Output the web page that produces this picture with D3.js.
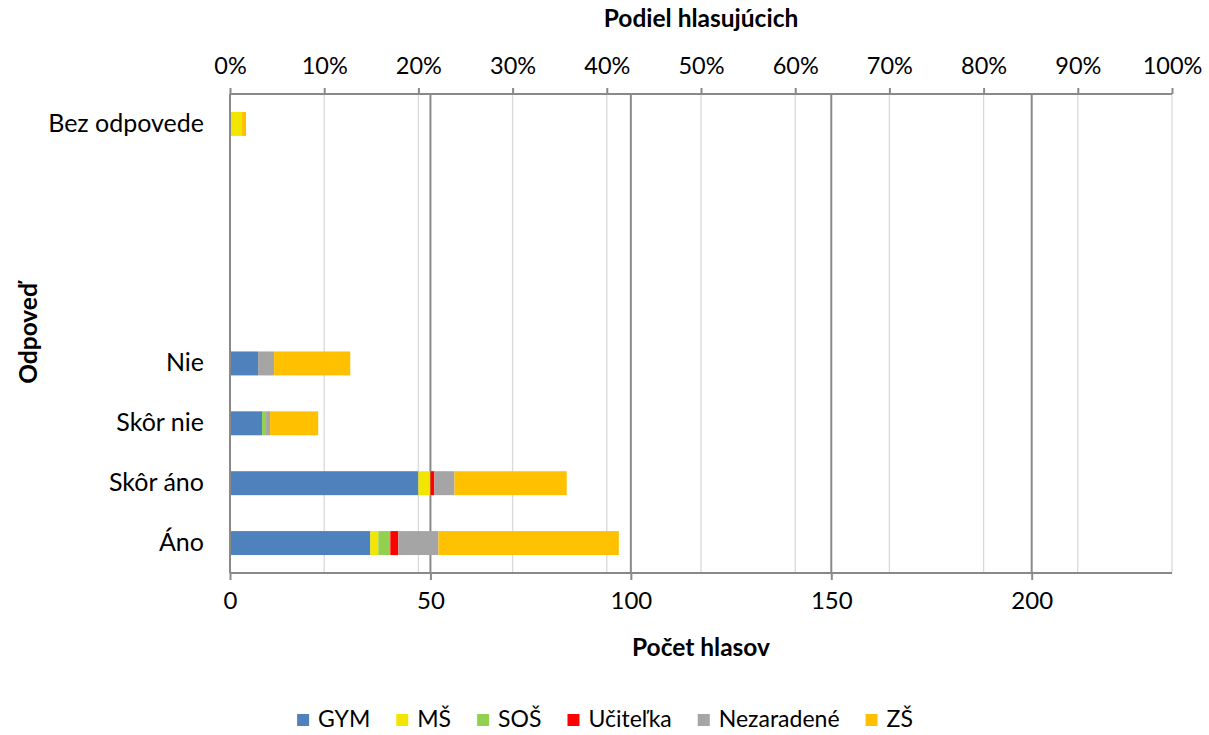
<!DOCTYPE html>
<html><head><meta charset="utf-8">
<script src="https://cdn.jsdelivr.net/npm/d3@7"></script>
<style>
body{margin:0;background:#fff;}
svg{font-family:Lato, "Open Sans", sans-serif;}
</style></head>
<body><svg id="chart" width="1209" height="735"></svg>
<script>
// categories top to bottom (empty slots kept as in original)
const categoryKeys = ["bez", "e1", "e2", "e3", "nie", "skornie", "skorano", "ano"];
const categoryLabels = ["Bez odpovede", "", "", "", "Nie", "Skôr nie", "Skôr áno", "Áno"];
// data categories
const dataCats = ["ano", "skorano", "skornie", "nie", "bez"];
const seriesNames = ["GYM", "MŠ", "SOŠ", "Učiteľka", "Nezaradené", "ZŠ"];
const gym = [35, 47, 8, 7, 0];
const ms = [2, 3, 0, 0, 3];
const sos = [3, 0, 1, 0, 0];
const ucitelka = [2, 1, 0, 0, 0];
const nezaradene = [10, 5, 1, 4, 0];
const zs = [45, 28, 12, 19, 1];
const colors = ["#4F81BD", "#F2E600", "#92D050", "#FF0000", "#A5A5A5", "#FFC000"];
const countTicks = [0, 50, 100, 150, 200];
const pctTicks = [0, 0.1, 0.2, 0.3, 0.4, 0.5, 0.6, 0.7, 0.8, 0.9, 1.0];
const countMax = 235;

const svg = d3.select("#chart");
const m = {left: 230, right: 1172, top: 94, bottom: 573};

const x = d3.scaleLinear().domain([0, countMax]).range([m.left, m.right]);
const xp = d3.scaleLinear().domain([0, 1]).range([m.left, m.right]);
const y = d3.scaleBand().domain(categoryKeys).range([m.top, m.bottom]).paddingInner(0.6).paddingOuter(0.3);

const rows = dataCats.map((c, i) => ({cat: c, GYM: gym[i], "MŠ": ms[i], "SOŠ": sos[i], "Učiteľka": ucitelka[i], "Nezaradené": nezaradene[i], "ZŠ": zs[i]}));
const stack = d3.stack().keys(seriesNames)(rows);

// light gridlines (percent)
svg.append("g").selectAll("line").data(pctTicks.slice(1)).join("line")
  .attr("x1", d => xp(d)).attr("x2", d => xp(d)).attr("y1", m.top).attr("y2", m.bottom)
  .attr("stroke", "#d9d9d9").attr("stroke-width", 1.3);
// dark gridlines (counts)
svg.append("g").selectAll("line").data(countTicks.slice(1)).join("line")
  .attr("x1", d => x(d)).attr("x2", d => x(d)).attr("y1", m.top).attr("y2", m.bottom)
  .attr("stroke", "#898989").attr("stroke-width", 2);

// bars
svg.append("g").selectAll("g").data(stack).join("g")
  .attr("fill", (d, i) => colors[i])
  .selectAll("rect").data(d => d).join("rect")
  .attr("x", d => x(d[0])).attr("width", d => x(d[1]) - x(d[0]))
  .attr("y", d => y(d.data.cat)).attr("height", y.bandwidth());

// left axis line
svg.append("line").attr("x1", m.left).attr("x2", m.left).attr("y1", m.top).attr("y2", m.bottom)
  .attr("stroke", "#898989").attr("stroke-width", 2);

// bottom axis
const bottomAxis = d3.axisBottom(x).tickValues(countTicks).tickSize(7).tickPadding(12).tickSizeOuter(0);
const gb = svg.append("g").attr("transform", `translate(0,${m.bottom})`).call(bottomAxis);
gb.select(".domain").attr("stroke", "#898989").attr("stroke-width", 2).attr("d", `M${m.left},0H${m.right}`);
gb.selectAll(".tick line").attr("stroke", "#898989").attr("stroke-width", 2);
gb.selectAll("text").attr("font-size", 24).attr("fill", "#000").attr("font-family", "Lato");

// top axis
const topAxis = d3.axisTop(xp).tickValues(pctTicks).tickFormat(d3.format(".0%")).tickSize(6).tickPadding(14).tickSizeOuter(0);
const gt = svg.append("g").attr("transform", `translate(0,${m.top})`).call(topAxis);
gt.select(".domain").attr("stroke", "#898989").attr("stroke-width", 2).attr("d", `M${m.left},0H${m.right}`);
gt.selectAll(".tick line").attr("stroke", "#898989").attr("stroke-width", 2);
gt.selectAll("text").attr("font-size", 23.5).attr("fill", "#000").attr("font-family", "Lato");

// left category labels
const leftAxis = d3.axisLeft(y).tickFormat((d, i) => categoryLabels[categoryKeys.indexOf(d)]).tickSize(0).tickPadding(26);
const gl = svg.append("g").attr("transform", `translate(${m.left},0)`).call(leftAxis);
gl.select(".domain").remove();
gl.selectAll("text").attr("font-size", 25).attr("fill", "#000").attr("font-family", "Lato");

// titles
svg.append("text").attr("x", (m.left + m.right) / 2).attr("y", 27).attr("text-anchor", "middle")
  .attr("font-size", 24.5).attr("font-weight", "bold").text("Podiel hlasujúcich");
svg.append("text").attr("x", (m.left + m.right) / 2).attr("y", 656).attr("text-anchor", "middle")
  .attr("font-size", 24.5).attr("font-weight", "bold").text("Počet hlasov");
svg.append("text").attr("transform", `translate(37,${(m.top + m.bottom) / 2}) rotate(-90)`).attr("text-anchor", "middle")
  .attr("font-size", 24.5).attr("font-weight", "bold").text("Odpoveď");

// legend
const lg = svg.append("g");
let lx = 0;
seriesNames.forEach((s, i) => {
  const g = lg.append("g").attr("transform", `translate(${lx},0)`);
  g.append("rect").attr("x", 0).attr("y", -13).attr("width", 12).attr("height", 12).attr("fill", colors[i]);
  const t = g.append("text").attr("x", 21).attr("y", 0).attr("font-size", 23).text(s);
  lx += 21 + t.node().getComputedTextLength() + 26;
});
const lw = lx - 26;
lg.attr("transform", `translate(${605 - lw / 2},727)`);
</script></body></html>
